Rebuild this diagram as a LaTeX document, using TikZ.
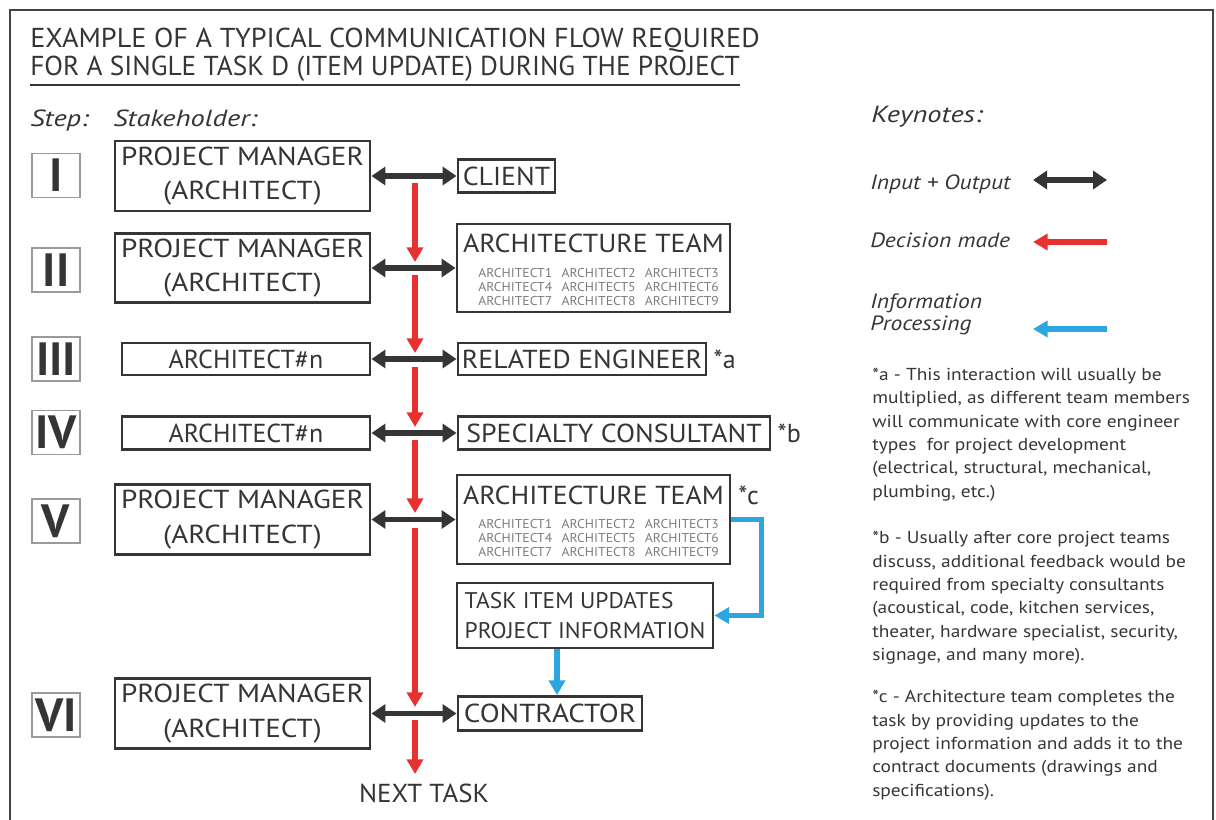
\documentclass[tikz,border=0pt]{standalone}
\usepackage{fontspec}
\setmainfont{PT Sans}
\newfontfamily\widefont[FakeStretch=1.12]{PT Sans}
\newfontfamily\midfont[FakeStretch=1.07]{PT Sans}
\newfontfamily\slimfont[FakeStretch=1.035]{PT Sans}
\newfontfamily\headfont[FakeStretch=1.22]{PT Sans}
\newfontfamily\keyfont[FakeStretch=1.14]{PT Sans}
\newfontfamily\notefont[FakeStretch=1.12]{PT Sans}
\usetikzlibrary{arrows.meta}
\definecolor{ink}{HTML}{353535}
\definecolor{framegray}{HTML}{444444}
\definecolor{numrule}{HTML}{9A9A9A}
\definecolor{decred}{HTML}{E8312F}
\definecolor{infoblue}{HTML}{2DA5DF}
\definecolor{membergray}{HTML}{7C7C7C}
\definecolor{notegray}{HTML}{363636}

% grid of team members inside an architecture-team box
\newcommand{\membergrid}{%
  \makebox[62.5pt][l]{ARCHITECT1}\makebox[62.5pt][l]{ARCHITECT2}ARCHITECT3\\
  \makebox[62.5pt][l]{ARCHITECT4}\makebox[62.5pt][l]{ARCHITECT5}ARCHITECT6\\
  \makebox[62.5pt][l]{ARCHITECT7}\makebox[62.5pt][l]{ARCHITECT8}ARCHITECT9}

\begin{document}
\begin{tikzpicture}[x=0.75pt,y=-0.75pt,
  every node/.style={inner sep=0pt, text=ink},
  box/.style={draw=ink, line width=2.2pt, align=center,
    font=\widefont\fontsize{19.5}{26}\selectfont},
  midbox/.style={box, font=\midfont\fontsize{19.5}{26}\selectfont},
  plainbox/.style={box, font=\rmfamily\fontsize{19.5}{26}\selectfont},
  numbox/.style={draw=numrule, line width=1.1pt, minimum width=36pt,
    minimum height=33pt, font=\fontsize{35}{35}\bfseries\selectfont},
  teamtitle/.style={anchor=base, font=\midfont\fontsize{19.5}{24}\selectfont},
  members/.style={anchor=north west, align=left, text=membergray,
    font=\midfont\fontsize{9.6}{10.5}\selectfont},
  io/.style={draw=ink, line width=3.8pt,
    {Triangle[length=10.5pt,width=13.5pt]}-{Triangle[length=10.5pt,width=13.5pt]}},
  decision/.style={draw=decred, line width=4pt,
    -{Triangle[length=11pt,width=12pt]}},
  info/.style={draw=infoblue, line width=3.8pt,
    -{Triangle[length=11pt,width=12pt]}},
  header/.style={anchor=base west, font=\headfont\fontsize{17.5}{20}\itshape\selectfont},
  keytext/.style={anchor=base west, font=\keyfont\fontsize{15.5}{20}\itshape\selectfont},
  note/.style={anchor=north west, align=left, text=notegray,
    font=\notefont\fontsize{13}{17.5}\selectfont},
  star/.style={anchor=base west, font=\fontsize{19.5}{24}\selectfont},
]
\useasboundingbox (0,0) rectangle (1216,820);

% outer frame, open at the bottom edge
\draw[framegray, line width=2.2pt] (10,840) -- (10,10) -- (1213,10) -- (1213,840);

% title
\node[anchor=base west, font=\slimfont\fontsize{20.5}{24}\selectfont] (t1) at (30,48)
  {EXAMPLE OF A TYPICAL COMMUNICATION FLOW REQUIRED};
\node[anchor=base west, font=\fontsize{20.5}{24}\selectfont] (t2) at (30,76)
  {FOR A SINGLE TASK D (ITEM UPDATE) DURING THE PROJECT};
\draw[ink, line width=1.5pt] ([yshift=-6.75pt]t2.base west) -- ([yshift=-6.75pt]t2.base east);

% column headers
\node[header] (hstep) at (30,127) {Step:};
\node[header] (hstake) at (113,127) {Stakeholder:};

% step numbers
\node[numbox] (n1) at (56,175.5) {I};
\node[numbox] (n2) at (56,270) {II};
\node[numbox] (n3) at (56,359) {III};
\node[numbox] (n4) at (56,432.5) {IV};
\node[numbox] (n5) at (56,521) {V};
\node[numbox] (n6) at (56,715) {VI};

% step I
\node[box, minimum width=191.25pt, minimum height=52.5pt] (pm1) at (242.5,176)
  {PROJECT MANAGER\\(ARCHITECT)};
\node[midbox, minimum width=72.75pt, minimum height=24.75pt] (client) at (506.5,176) {CLIENT};

% step II
\node[box, minimum width=191.25pt, minimum height=51.75pt] (pm2) at (242.5,268)
  {PROJECT MANAGER\\(ARCHITECT)};
\node[box, minimum width=204.75pt, minimum height=66pt] (arch2) at (593.5,268) {};
\node[teamtitle] (arch2t) at (593.5,252) {ARCHITECTURE TEAM};
\node[members] (arch2m) at (478,268) {\membergrid};

% step III
\node[plainbox, minimum width=186pt, minimum height=24pt] (an3) at (246,359) {ARCHITECT\#n};
\node[midbox, minimum width=186pt, minimum height=24pt] (rel) at (582,359) {RELATED ENGINEER};
\node[star] (sa) at ([xshift=4.5pt]rel.east |- rel.base) {*a};

% step IV
\node[plainbox, minimum width=186pt, minimum height=24.75pt] (an4) at (246,433) {ARCHITECT\#n};
\node[midbox, minimum width=234pt, minimum height=24.75pt] (spec) at (614,433) {SPECIALTY CONSULTANT};
\node[star] (sb) at ([xshift=4.5pt]spec.east |- spec.base) {*b};

% step V
\node[box, minimum width=191.25pt, minimum height=52.5pt] (pm5) at (242.5,519.5)
  {PROJECT MANAGER\\(ARCHITECT)};
\node[box, minimum width=204.75pt, minimum height=66.75pt] (arch5) at (593.5,519.5) {};
\node[teamtitle] (arch5t) at (593.5,504) {ARCHITECTURE TEAM};
\node[members] (arch5m) at (478,519) {\membergrid};
\node[star] (sc) at ([xshift=5pt]arch5.east |- arch5t.base) {*c};
\node[box, align=left, minimum width=192pt, minimum height=48.75pt,
  font=\slimfont\fontsize{17}{22}\selectfont] (task) at (585,615.5)
  {TASK ITEM UPDATES\\PROJECT INFORMATION};

% step VI
\node[box, minimum width=191.25pt, minimum height=53pt] (pm6) at (242.5,713.5)
  {PROJECT MANAGER\\(ARCHITECT)};
\node[box, minimum width=138pt, minimum height=25.5pt] (con) at (550,713.5) {CONTRACTOR};

\node[anchor=base, font=\slimfont\fontsize{19.5}{24}\selectfont] (next) at (424,802) {NEXT TASK};

% decision line, broken at each exchange
\coordinate (d1s) at (415,183); \coordinate (d1e) at (415,262);
\coordinate (d2s) at (415,275); \coordinate (d2e) at (415,353);
\coordinate (d3s) at (415,367); \coordinate (d3e) at (415,427);
\coordinate (d4s) at (415,440); \coordinate (d4e) at (415,513);
\coordinate (d5s) at (415,528); \coordinate (d5e) at (415,707);
\coordinate (d6s) at (415,720); \coordinate (d6e) at (415,774);
\draw[decision] (d1s) -- (d1e);
\draw[decision] (d2s) -- (d2e);
\draw[decision] (d3s) -- (d3e);
\draw[decision] (d4s) -- (d4e);
\draw[decision] (d5s) -- (d5e);
\draw[decision] (d6s) -- (d6e);

% input + output exchanges
\draw[io] (pm1.east) -- (client.west);
\draw[io] (pm2.east) -- (arch2.west);
\draw[io] (an3.east) -- (rel.west);
\draw[io] (an4.east) -- (spec.west);
\draw[io] (pm5.east) -- (arch5.west);
\draw[io] (pm6.east) -- (con.west);

% information processing
\draw[info] (arch5.east) -- ++(30,0) |- (task.east);
\draw[info] ([xshift=-21pt]task.south) -- ([xshift=-21pt]task.south |- con.north);

% keynotes
\node[header] (key) at (871,123) {Keynotes:};
\node[keytext] (kio) at (870,189) {Input + Output};
\node[keytext] (kdec) at (870,247) {Decision made};
\node[keytext] (kinf1) at (870,308) {Information};
\node[keytext] (kinf2) at (870,330) {Processing};
\coordinate (k1a) at (1033,180); \coordinate (k1b) at (1107,180);
\coordinate (k2a) at (1107,242); \coordinate (k2b) at (1033,242);
\coordinate (k3a) at (1107,329); \coordinate (k3b) at (1033,329);
\draw[io] (k1a) -- (k1b);
\draw[decision] (k2a) -- (k2b);
\draw[info] (k3a) -- (k3b);

% notes
\node[note] (nta) at (872,368)
  {*a - This interaction will usually be\\
   multiplied, as different team members\\
   will communicate with core engineer\\
   types\ \ for project development\\
   (electrical, structural, mechanical,\\
   plumbing, etc.)};
\node[note] (ntb) at (872,531)
  {*b - Usually after core project teams\\
   discuss, additional feedback would be\\
   required from specialty consultants\\
   (acoustical, code, kitchen services,\\
   theater, hardware specialist, security,\\
   signage, and many more).};
\node[note] (ntc) at (872,690)
  {*c - Architecture team completes the\\
   task by providing updates to the\\
   project information and adds it to the\\
   contract documents (drawings and\\
   specifications).};
\end{tikzpicture}
\end{document}
